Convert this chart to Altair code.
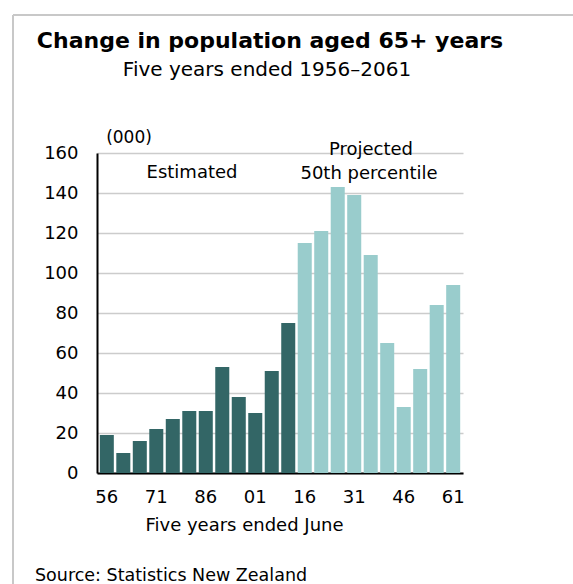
import altair as alt
import pandas as pd

# Five-year periods ended June
years = [1956, 1961, 1966, 1971, 1976, 1981, 1986, 1991, 1996, 2001, 2006,
         2011, 2016, 2021, 2026, 2031, 2036, 2041, 2046, 2051, 2056, 2061]
# Change in population aged 65+ (000)
estimated = [19, 10, 16, 22, 27, 31, 31, 53, 38, 30, 51, 75]
projected = [115, 121, 143, 139, 109, 65, 33, 52, 84, 94]

series = ["Estimated"] * len(estimated) + ["Projected"] * len(projected)
df = pd.DataFrame({"year": years, "change": estimated + projected, "series": series})

FONT = "DejaVu Sans"
W, H = 366, 320
one = alt.Data(values=[{}])

bars = alt.Chart(df).mark_bar().encode(
    x=alt.X("year:O",
            scale=alt.Scale(paddingInner=0.15, paddingOuter=0.17),
            axis=alt.Axis(title="Five years ended June",
                          labelExpr="(datum.value - 1956) % 15 == 0 ? slice(toString(datum.value), 2) : ''",
                          labelAngle=0, labelFont=FONT, labelFontSize=18, labelColor="#000",
                          labelPadding=15, ticks=False, tickSize=0,
                          domainColor="#000", domainWidth=2,
                          titleFont=FONT, titleFontSize=18, titleFontWeight="normal", titleColor="#000",
                          titleX=147, titleY=43, titleAlign="center", titleBaseline="top")),
    y=alt.Y("change:Q",
            scale=alt.Scale(domain=[0, 160], nice=False),
            axis=alt.Axis(title=None, values=list(range(0, 161, 20)),
                          labelFont=FONT, labelFontSize=18, labelColor="#000",
                          labelPadding=19, ticks=False, tickSize=0,
                          domainColor="#000", domainWidth=2,
                          grid=True, gridColor="#cccccc", gridWidth=1.5)),
    color=alt.Color("series:N",
                    scale=alt.Scale(domain=["Estimated", "Projected"], range=["#336666", "#99cccc"]),
                    legend=None),
)


def label(text, x, y, size=18, weight="normal", align="center"):
    return alt.Chart(one).mark_text(
        font=FONT, fontSize=size, fontWeight=weight, align=align,
        baseline="alphabetic", color="#000"
    ).encode(x=alt.value(x), y=alt.value(y), text=alt.value(text))


title = label("Change in population aged 65+ years", 173, -105, size=22, weight="bold")
subtitle = label("Five   years   ended   1956\u20132061", 170, -77, size=20)
units = label("(000)", 32, -10, size=17)
est_lbl = label("Estimated", 95, 25, size=18)
proj_lbl1 = label("Projected", 274, 2, size=18)
proj_lbl2 = label("50th percentile", 272, 26, size=18)
source = label("Source: Statistics New Zealand", -62, 428, size=17.5, align="left")

# Light frame around the graphic (top and left edges)
frame_top = alt.Chart(one).mark_rule(color="#c8c8c8", strokeWidth=2).encode(
    x=alt.value(-84), x2=alt.value(480), y=alt.value(-138))
frame_left = alt.Chart(one).mark_rule(color="#c8c8c8", strokeWidth=2).encode(
    x=alt.value(-84), y=alt.value(-138), y2=alt.value(440))

chart = alt.layer(
    frame_top, frame_left, bars, title, subtitle, units, est_lbl, proj_lbl1, proj_lbl2, source
).properties(
    width=W, height=H,
    autosize=alt.AutoSizeParams(type="none"),
    padding={"left": 97, "top": 153, "right": 110, "bottom": 111},
    background="#ffffff",
).configure_view(stroke=None)

chart.save("out.html", embed_options={"renderer": "svg", "actions": False})
